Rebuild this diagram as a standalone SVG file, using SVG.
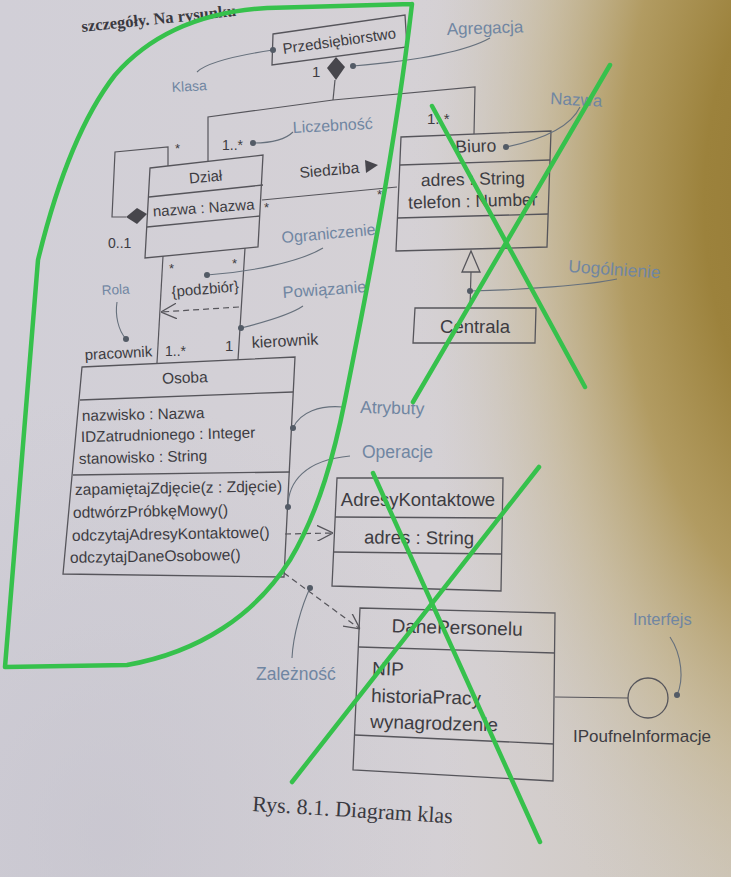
<svg xmlns="http://www.w3.org/2000/svg" width="731" height="877" viewBox="0 0 731 877">
<defs>
<linearGradient id="paper" x1="0" y1="0" x2="1" y2="0">
<stop offset="0" stop-color="#d1cfd7"/>
<stop offset="0.6" stop-color="#d5d1d5"/>
<stop offset="1" stop-color="#cfc7bb"/>
</linearGradient>
<radialGradient id="gold" gradientUnits="userSpaceOnUse" cx="830" cy="200" r="420" gradientTransform="translate(830 200) scale(1 2) translate(-830 -200)">
<stop offset="0" stop-color="#937833" stop-opacity="1"/>
<stop offset="0.3" stop-color="#9c823c" stop-opacity="1"/>
<stop offset="0.5" stop-color="#ae9657" stop-opacity="0.9"/>
<stop offset="0.7" stop-color="#c2b28a" stop-opacity="0.6"/>
<stop offset="1" stop-color="#d0ccc8" stop-opacity="0"/>
</radialGradient>
<radialGradient id="shade" cx="0.15" cy="0.95" r="0.5">
<stop offset="0" stop-color="#c4c2cc" stop-opacity="0.6"/>
<stop offset="1" stop-color="#c4c2cc" stop-opacity="0"/>
</radialGradient>
<marker id="open" viewBox="0 0 16 16" refX="16" refY="8" markerWidth="16" markerHeight="16" markerUnits="userSpaceOnUse" orient="auto">
<path d="M0,0 L16,8 L0,16" fill="none" stroke="#56555b" stroke-width="1.3"/>
</marker>
</defs>
<style>
.t{font-family:"Liberation Sans",Arial,sans-serif;fill:#3d3c42}
.a{font-family:"Liberation Sans",Arial,sans-serif;fill:#7086a2}
.s{font-family:"Liberation Serif","Times New Roman",serif;fill:#3a3940}
.m{text-anchor:middle}
.box{fill:none;stroke:#56555b;stroke-width:1.3}
.ln{fill:none;stroke:#56555b;stroke-width:1.2}
.dash{stroke-dasharray:6 4}
.note{fill:none;stroke:#66707c;stroke-width:1.1}
.dot{fill:#535b66}
.g{fill:none;stroke:#36c14c;stroke-width:4.5;stroke-linecap:round;stroke-linejoin:round}
</style>
<rect width="731" height="877" fill="url(#paper)"/>
<rect width="731" height="877" fill="url(#gold)"/>
<rect width="731" height="877" fill="url(#shade)"/>

<text class="s" x="82" y="32" font-size="16.5" font-weight="bold" transform="rotate(-6 82 32)">szczegóły. Na rysunku</text>

<g id="przedsiebiorstwo">
<polygon class="box" points="273,34 405,15 407,47 272,65"/>
<text class="t m" x="340" y="46" font-size="15" transform="rotate(-8 340 46)">Przedsiębiorstwo</text>
</g>

<g id="dzial">
<polygon class="box" points="150,168 263,155 258,247 145,258"/>
<line class="box" x1="149" y1="197" x2="263" y2="185"/>
<line class="box" x1="147" y1="227" x2="260" y2="216"/>
<text class="t m" x="206" y="182" font-size="15" transform="rotate(-5 206 182)">Dział</text>
<text class="t m" x="204" y="213" font-size="15" transform="rotate(-4 204 213)">nazwa : Nazwa</text>
</g>

<g id="biuro">
<polygon class="box" points="401,137 551,131 547,247 396,251"/>
<line class="box" x1="400" y1="165" x2="550" y2="160"/>
<line class="box" x1="397" y1="218" x2="548" y2="214"/>
<text class="t m" x="476" y="152" font-size="17.5" transform="rotate(-2 476 152)">Biuro</text>
<text class="t m" x="473" y="185" font-size="17.5" transform="rotate(-1.5 473 185)">adres : String</text>
<text class="t m" x="473" y="207" font-size="17.5" transform="rotate(-1.5 473 207)">telefon : Number</text>
</g>

<g id="centrala">
<polygon class="box" points="415,308 536,308 535,343 413,343"/>
<text class="t m" x="475" y="333" font-size="18.5">Centrala</text>
</g>

<g id="osoba">
<polygon class="box" points="82,367 295,357 284,577 63,574"/>
<line class="box" x1="80" y1="400" x2="293" y2="392"/>
<line class="box" x1="73" y1="475" x2="290" y2="472"/>
<text class="t m" x="185" y="383" font-size="15.5" transform="rotate(-2 185 383)">Osoba</text>
<text class="t" x="82" y="421" font-size="15.3" transform="rotate(-1.4 82 421)">nazwisko : Nazwa</text>
<text class="t" x="81" y="442" font-size="15.3" transform="rotate(-1.4 81 442)">IDZatrudnionego : Integer</text>
<text class="t" x="79" y="464" font-size="15.3" transform="rotate(-1.4 79 464)">stanowisko : String</text>
<text class="t" x="75" y="495" font-size="15.6" transform="rotate(-1 75 495)">zapamiętajZdjęcie(z : Zdjęcie)</text>
<text class="t" x="73" y="518" font-size="15.6" transform="rotate(-1 73 518)">odtwórzPróbkęMowy()</text>
<text class="t" x="72" y="541" font-size="15.6" transform="rotate(-1 72 541)">odczytajAdresyKontaktowe()</text>
<text class="t" x="70" y="563" font-size="15.6" transform="rotate(-1 70 563)">odczytajDaneOsobowe()</text>
</g>

<g id="adresykontaktowe">
<polygon class="box" points="337,478 503,478 501,591 332,586"/>
<line class="box" x1="335" y1="517" x2="502" y2="518"/>
<line class="box" x1="333" y1="552" x2="502" y2="554"/>
<text class="t m" x="418" y="506" font-size="18.5">AdresyKontaktowe</text>
<text class="t m" x="419" y="544" font-size="18.5" transform="rotate(0.5 419 544)">adres : String</text>
</g>

<g id="danepersonelu">
<polygon class="box" points="360,608 555,613 553,781 353,770"/>
<line class="box" x1="359" y1="647" x2="555" y2="653"/>
<line class="box" x1="355" y1="735" x2="554" y2="744"/>
<text class="t m" x="457" y="634" font-size="19" transform="rotate(1.5 457 634)">DanePersonelu</text>
<text class="t" x="372" y="675" font-size="19" transform="rotate(1.5 372 675)">NIP</text>
<text class="t" x="371" y="702" font-size="19" transform="rotate(1.5 371 702)">historiaPracy</text>
<text class="t" x="370" y="728" font-size="19" transform="rotate(1.5 370 728)">wynagrodzenie</text>
</g>

<g id="ipoufneinformacje">
<circle class="box" cx="648" cy="698" r="20"/>
<text class="t" x="573" y="742" font-size="17">IPoufneInformacje</text>
</g>

<g id="connectors">
<polygon points="336,57 345,67 336,80 327,68" fill="#47464c"/>
<polyline class="ln" points="335,80 333,100"/>
<polyline class="ln" points="208,161 208,117 333,100 475,87 474,134"/>
<text class="t" x="312" y="77" font-size="15">1</text>
<text class="t" x="222" y="150" font-size="14">1..*</text>
<text class="t" x="427" y="124" font-size="15">1..*</text>
<polyline class="ln" points="168,166 168,147 115,152 112,217 126,217"/>
<polygon points="126,217 137,208 147,214 137,224" fill="#47464c"/>
<text class="t" x="175" y="153" font-size="13">*</text>
<text class="t" x="108" y="248" font-size="14">0..1</text>
<line class="ln" x1="262" y1="200" x2="397" y2="187"/>
<text class="t" x="264" y="212" font-size="13">*</text>
<text class="t" x="377" y="199" font-size="13">*</text>
<text class="t" x="300" y="178" font-size="15.6" transform="rotate(-5 300 178)">Siedziba</text>
<polygon points="365,160 378,165 366,173" fill="#47464c"/>
<polygon points="471,251 462,272 480,272" fill="none" stroke="#56555b" stroke-width="1.3"/>
<line class="ln" x1="471" y1="272" x2="470" y2="308"/>
<line class="ln" x1="163" y1="256" x2="157" y2="363"/>
<line class="ln" x1="245" y1="248" x2="238" y2="360"/>
<text class="t" x="169" y="273" font-size="13">*</text>
<text class="t" x="232" y="268" font-size="13">*</text>
<text class="t" x="172" y="297" font-size="15" transform="rotate(-5 172 297)">{podzbiór}</text>
<line class="ln dash" x1="239" y1="307" x2="161" y2="312" marker-end="url(#open)"/>
<text class="t" x="85" y="360" font-size="15" transform="rotate(-3 85 360)">pracownik</text>
<text class="t" x="165" y="356" font-size="14">1..*</text>
<text class="t" x="225" y="351" font-size="15">1</text>
<text class="t" x="252" y="348" font-size="16" transform="rotate(-3 252 348)">kierownik</text>
<line class="ln dash" x1="285" y1="534" x2="333" y2="533" marker-end="url(#open)"/>
<line class="ln dash" x1="284" y1="573" x2="360" y2="629" marker-end="url(#open)"/>
<line class="ln" x1="555" y1="697" x2="628" y2="698"/>
</g>

<g id="annotations">
<path class="note" d="M197,72 C207,62 240,55 273,50"/>
<circle class="dot" cx="273" cy="50" r="3"/>
<text class="a" x="172" y="92" font-size="14" transform="rotate(-3 172 92)">Klasa</text>
<path class="note" d="M353,66 C400,62 460,55 490,38"/>
<circle class="dot" cx="353" cy="66" r="3"/>
<text class="a" x="447" y="35" font-size="17" transform="rotate(-2 447 35)">Agregacja</text>
<path class="note" d="M253,143 C270,143 285,140 293,132"/>
<circle class="dot" cx="253" cy="143" r="3"/>
<text class="a" x="293" y="133" font-size="16" transform="rotate(-3 293 133)">Liczebność</text>
<path class="note" d="M506,147 C540,140 570,128 580,107"/>
<circle class="dot" cx="506" cy="147" r="3"/>
<text class="a" x="550" y="104" font-size="17" transform="rotate(3 550 104)">Nazwa</text>
<path class="note" d="M207,275 C250,272 300,262 323,248"/>
<circle class="dot" cx="207" cy="275" r="3"/>
<text class="a" x="282" y="243" font-size="16" transform="rotate(-5 282 243)">Ograniczenie</text>
<path class="note" d="M241,328 C265,322 290,315 303,306"/>
<circle class="dot" cx="241" cy="328" r="3"/>
<text class="a" x="283" y="298" font-size="16.4" transform="rotate(-4 283 298)">Powiązanie</text>
<path class="note" d="M117,302 C115,315 118,330 126,339"/>
<circle class="dot" cx="126" cy="339" r="3"/>
<text class="a" x="102" y="295" font-size="13.6" transform="rotate(-3 102 295)">Rola</text>
<path class="note" d="M470,291 C520,290 590,285 617,279"/>
<circle class="dot" cx="470" cy="291" r="3"/>
<text class="a" x="568" y="272" font-size="17.5" transform="rotate(4 568 272)">Uogólnienie</text>
<path class="note" d="M293,428 C300,412 320,405 343,407"/>
<circle class="dot" cx="293" cy="428" r="3"/>
<text class="a" x="360" y="413" font-size="17.5" transform="rotate(1.5 360 413)">Atrybuty</text>
<path class="note" d="M288,507 C288,482 305,460 350,456"/>
<circle class="dot" cx="288" cy="507" r="3"/>
<text class="a" x="362" y="458" font-size="17.5">Operacje</text>
<path class="note" d="M310,588 C302,605 293,635 292,658"/>
<circle class="dot" cx="310" cy="588" r="3"/>
<text class="a" x="256" y="680" font-size="17.5">Zależność</text>
<path class="note" d="M670,637 C682,655 684,680 677,695"/>
<circle class="dot" cx="677" cy="695" r="3"/>
<text class="a" x="633" y="625" font-size="16.5">Interfejs</text>
</g>

<text class="s" x="252" y="811" font-size="22" transform="rotate(3.5 252 811)">Rys. 8.1. Diagram klas</text>

<g id="green-marks">
<path class="g" d="M412,4 L267,8 C200,12 150,35 115,75 C80,120 55,190 38,260 L5,667 L127,665 C200,652 255,615 290,560 C320,510 335,450 345,400 C365,300 395,150 412,4"/>
<line class="g" x1="432" y1="106" x2="585" y2="387"/>
<line class="g" x1="610" y1="65" x2="413" y2="402"/>
<line class="g" x1="373" y1="473" x2="540" y2="842"/>
<line class="g" x1="539" y1="467" x2="292" y2="782"/>
</g>
</svg>
